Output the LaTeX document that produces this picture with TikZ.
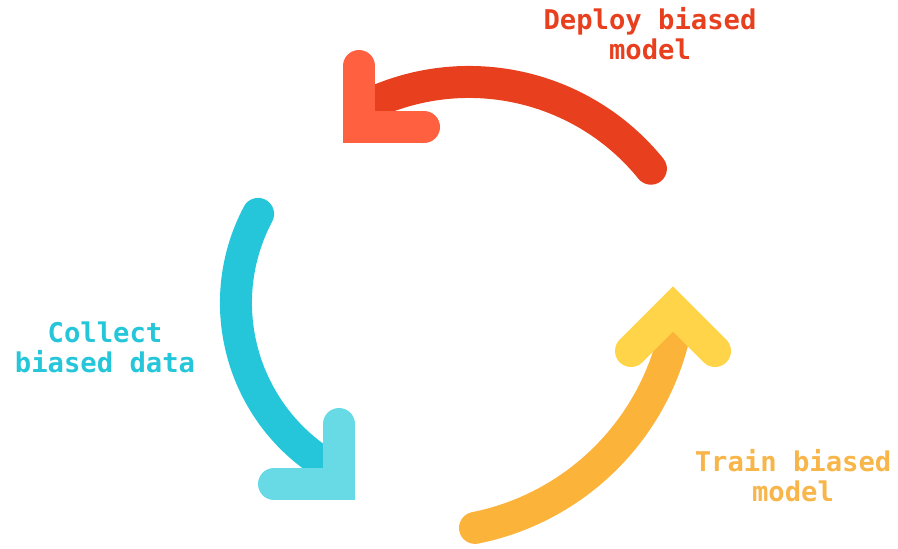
\documentclass[tikz,border=0pt]{standalone}
\usepackage{fontspec}
\setmonofont{DejaVu Sans Mono}
\usepackage{tikz}
\definecolor{deployred}{HTML}{E8401E}
\definecolor{deployhead}{HTML}{FF6040}
\definecolor{collectcyan}{HTML}{26C6DA}
\definecolor{collecthead}{HTML}{68DAE6}
\definecolor{trainorange}{HTML}{FBB33A}
\definecolor{trainhead}{HTML}{FFD448}
\definecolor{traintext}{HTML}{F8B54A}
\tikzset{
 loop arc/.style = {
    line width=16pt, line cap=round},
 loop head/.style = {
    line width=16pt, line cap=round, line join=miter},
 step label/.style = {
    font=\ttfamily\bfseries\fontsize{13.6}{15}\selectfont,
    align=center, inner sep=0pt, anchor=north},
}
\begin{document}
\begin{tikzpicture}[x=0.5pt, y=0.5pt]
    \useasboundingbox (0,0) rectangle (898,548);

    % Place nodes
    \node [step label, text=deployred]   (deploy)  at (650,541) {Deploy biased\\model};
    \node [step label, text=collectcyan] (collect) at (105,227) {Collect\\biased data};
    \node [step label, text=traintext]   (train)   at (793,99)  {Train biased\\model};

    % Arc ends and arrow heads
    \coordinate (deploy start) at (650.9,379.3);
    \coordinate (deploy up)    at (359,482);
    \coordinate (deploy tip)   at (359,421);
    \coordinate (deploy right) at (424,421);

    \coordinate (collect start) at (258.1,334.1);
    \coordinate (collect up)    at (339,124);
    \coordinate (collect tip)   at (339,64);
    \coordinate (collect left)  at (274,64);

    \coordinate (train start) at (475,20.1);
    \coordinate (train left)  at (631,197);
    \coordinate (train tip)   at (673,239);
    \coordinate (train right) at (715,197);

    \draw[loop arc, deployred] (deploy start) arc[start angle=39, end angle=118, radius=234];
    \draw[loop head, deployhead] (deploy up) -- (deploy tip) -- (deploy right);

    \draw[loop arc, collectcyan] (collect start) arc[start angle=152.1, end angle=241, radius=190.4];
    \draw[loop head, collecthead] (collect up) -- (collect tip) -- (collect left);

    \draw[loop arc, trainorange] (train start) arc[start angle=281.3, end angle=351, radius=256];
    \draw[loop head, trainhead] (train left) -- (train tip) -- (train right);
\end{tikzpicture}
\end{document}
